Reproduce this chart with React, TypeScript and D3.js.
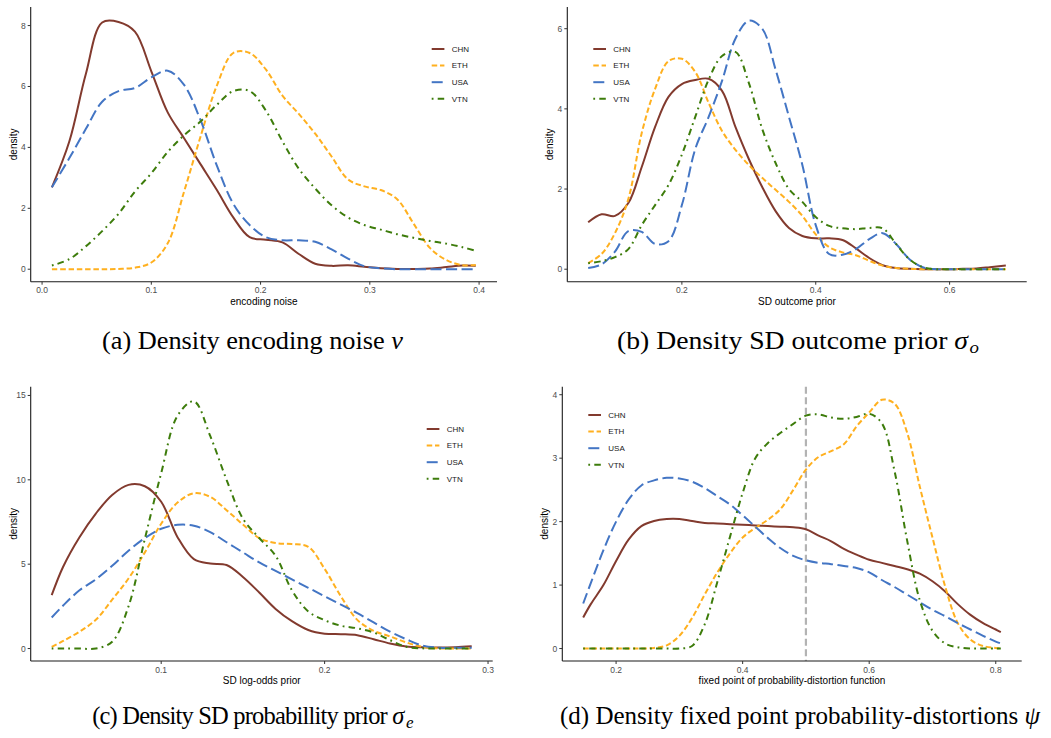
import React from 'react';
import * as d3 from 'd3';

// Countries, drawn in this order (last on top)
const countries = ['CHN', 'ETH', 'USA', 'VTN'];
const countryColors = ['#823A2E', '#FFB01F', '#4375C4', '#3D7C0B'];
const countryDashes = ['', '5.5,2.8', '11,4.5', '1.8,4.2,6.5,4.2'];

// (a) encoding noise
const noiseX = [0.009, 0.025, 0.04, 0.055, 0.07, 0.085, 0.1, 0.115, 0.13, 0.145, 0.16, 0.175, 0.19, 0.205, 0.22, 0.235, 0.25, 0.265, 0.28, 0.295, 0.31, 0.325, 0.34, 0.355, 0.37, 0.385, 0.397];
const noiseCHN = [2.69, 4.2, 6.4, 8.1, 8.12, 7.8, 6.5, 5.15, 4.3, 3.45, 2.6, 1.7, 1.05, 0.97, 0.88, 0.5, 0.18, 0.11, 0.13, 0.08, 0.03, 0.01, 0.01, 0.02, 0.07, 0.12, 0.11];
const noiseETH = [0, 0, 0, 0, 0.01, 0.05, 0.22, 0.85, 2.55, 4.35, 6.03, 7.1, 7.1, 6.55, 5.7, 5.1, 4.45, 3.7, 2.95, 2.72, 2.6, 2.3, 1.5, 0.7, 0.3, 0.13, 0.14];
const noiseUSA = [2.69, 3.65, 4.6, 5.5, 5.85, 5.95, 6.3, 6.52, 6.05, 4.9, 3.4, 2.15, 1.45, 1.05, 0.95, 0.95, 0.9, 0.65, 0.35, 0.1, 0.03, 0, 0, 0, 0, 0, 0];
const noiseVTN = [0.12, 0.33, 0.75, 1.25, 1.82, 2.55, 3.15, 3.85, 4.4, 4.85, 5.4, 5.85, 5.85, 5.2, 4.2, 3.3, 2.65, 2.1, 1.7, 1.45, 1.3, 1.15, 1.03, 0.93, 0.84, 0.72, 0.6];
const noisePeak = 8.2;
const noiseXTicks = [0, 0.1, 0.2, 0.3, 0.4];
const noiseYTicks = [0, 2, 4, 6, 8];

// (b) SD outcome prior
const outcomeX = [0.06, 0.08, 0.1, 0.12, 0.14, 0.16, 0.18, 0.2, 0.22, 0.24, 0.26, 0.28, 0.3, 0.32, 0.34, 0.36, 0.38, 0.4, 0.42, 0.44, 0.46, 0.48, 0.5, 0.52, 0.54, 0.56, 0.58, 0.6, 0.62, 0.64, 0.66, 0.684];
const outcomeCHN = [1.17, 1.37, 1.33, 1.65, 2.55, 3.55, 4.3, 4.62, 4.72, 4.75, 4.45, 3.55, 2.75, 2.05, 1.45, 1.03, 0.83, 0.77, 0.77, 0.73, 0.52, 0.28, 0.1, 0.03, 0.01, 0, 0, 0, 0.01, 0.02, 0.05, 0.09];
const outcomeETH = [0.15, 0.38, 0.9, 1.75, 3.4, 4.5, 5.19, 5.25, 4.92, 4.15, 3.45, 2.98, 2.6, 2.28, 1.98, 1.68, 1.33, 0.87, 0.55, 0.42, 0.35, 0.21, 0.09, 0.03, 0.01, 0, 0, 0, 0, 0, 0, 0];
const outcomeUSA = [0.03, 0.12, 0.44, 0.95, 0.93, 0.63, 0.7, 1.6, 3.0, 3.8, 4.7, 5.75, 6.2, 6.0, 4.98, 3.8, 2.6, 1.1, 0.38, 0.36, 0.5, 0.75, 0.9, 0.63, 0.25, 0.05, 0, 0, 0, 0, 0, 0];
const outcomeVTN = [0.15, 0.2, 0.3, 0.5, 1.1, 1.6, 2.1, 2.86, 3.8, 4.73, 5.32, 5.42, 4.65, 3.5, 2.65, 2.0, 1.68, 1.3, 1.08, 1.02, 1.0, 1.03, 1.02, 0.63, 0.25, 0.05, 0, 0, 0, 0, 0, 0];
const outcomePeak = 6.23;
const outcomeXTicks = [0.2, 0.4, 0.6];
const outcomeYTicks = [0, 2, 4, 6];

// (c) SD log-odds prior
const logoddsX = [0.033, 0.04, 0.05, 0.06, 0.07, 0.08, 0.09, 0.1, 0.11, 0.12, 0.13, 0.14, 0.15, 0.16, 0.17, 0.18, 0.19, 0.2, 0.21, 0.22, 0.23, 0.24, 0.25, 0.26, 0.27, 0.28, 0.29];
const logoddsCHN = [3.16, 4.85, 6.6, 8.0, 9.1, 9.7, 9.62, 8.7, 6.6, 5.3, 5.04, 4.95, 4.24, 3.32, 2.35, 1.62, 1.1, 0.88, 0.85, 0.79, 0.55, 0.3, 0.12, 0.07, 0.06, 0.08, 0.13];
const logoddsETH = [0.1, 0.45, 1.0, 1.7, 2.9, 4.15, 5.7, 7.4, 8.65, 9.2, 8.99, 8.2, 7.35, 6.55, 6.25, 6.19, 6.03, 4.72, 3.09, 1.7, 1.05, 0.72, 0.36, 0.1, 0.01, 0, 0];
const logoddsUSA = [1.84, 2.55, 3.45, 4.1, 4.9, 5.8, 6.55, 7.1, 7.33, 7.28, 6.9, 6.3, 5.7, 5.1, 4.6, 4.1, 3.6, 3.1, 2.6, 2.1, 1.55, 1.0, 0.55, 0.17, 0.05, 0.04, 0.04];
const logoddsVTN = [0, 0, 0, 0, 0.4, 2.5, 6.5, 10.4, 13.8, 14.65, 12.6, 10.0, 7.7, 6.55, 5.5, 3.45, 2.2, 1.68, 1.35, 1.2, 0.95, 0.5, 0.1, 0.01, 0, 0, 0];
const logoddsPeak = 14.78;
const logoddsXTicks = [0.1, 0.2, 0.3];
const logoddsYTicks = [0, 5, 10, 15];

// (d) fixed point of the probability-distortion function
const fixedX = [0.148, 0.16, 0.18, 0.2, 0.22, 0.24, 0.26, 0.28, 0.3, 0.32, 0.34, 0.36, 0.38, 0.4, 0.42, 0.44, 0.46, 0.48, 0.5, 0.52, 0.54, 0.56, 0.58, 0.6, 0.62, 0.64, 0.66, 0.68, 0.7, 0.72, 0.74, 0.76, 0.78, 0.8, 0.808];
const fixedCHN = [0.49, 0.7, 1.0, 1.38, 1.72, 1.93, 2.01, 2.04, 2.04, 2.01, 1.98, 1.97, 1.96, 1.95, 1.94, 1.93, 1.92, 1.91, 1.88, 1.78, 1.69, 1.57, 1.48, 1.4, 1.35, 1.3, 1.25, 1.18, 1.06, 0.9, 0.7, 0.53, 0.4, 0.3, 0.26];
const fixedETH = [0, 0, 0, 0, 0, 0, 0.01, 0.05, 0.2, 0.48, 0.85, 1.2, 1.5, 1.75, 1.9, 2.03, 2.2, 2.5, 2.82, 3.02, 3.11, 3.22, 3.5, 3.72, 3.92, 3.86, 3.4, 2.55, 1.75, 0.98, 0.4, 0.14, 0.04, 0.01, 0];
const fixedUSA = [0.71, 1.03, 1.55, 2.0, 2.35, 2.57, 2.65, 2.69, 2.68, 2.63, 2.53, 2.4, 2.27, 2.1, 1.92, 1.74, 1.58, 1.46, 1.39, 1.35, 1.33, 1.3, 1.27, 1.2, 1.08, 0.97, 0.85, 0.73, 0.61, 0.51, 0.4, 0.3, 0.2, 0.11, 0.08];
const fixedVTN = [0, 0, 0, 0, 0, 0, 0, 0, 0, 0.04, 0.38, 1.05, 1.76, 2.45, 3.0, 3.24, 3.4, 3.54, 3.67, 3.69, 3.64, 3.62, 3.65, 3.7, 3.55, 2.8, 1.7, 0.76, 0.28, 0.08, 0.02, 0, 0, 0, 0];
const fixedPeak = 3.93;
const fixedXTicks = [0.2, 0.4, 0.6, 0.8];
const fixedYTicks = [0, 1, 2, 3, 4];
const fixedReference = 0.5;

type Box = { l: number; r: number; t: number; b: number };
type PanelSpec = {
  xs: number[];
  ys: number[][];
  peak: number;
  xTicks: number[];
  yTicks: number[];
  xTitle: string;
  box: Box;
  legend: { x: number; y: number };
  refLine?: number;
};

const panels: PanelSpec[] = [
  {
    xs: noiseX, ys: [noiseCHN, noiseETH, noiseUSA, noiseVTN], peak: noisePeak,
    xTicks: noiseXTicks, yTicks: noiseYTicks, xTitle: 'encoding noise',
    box: { l: 30.7, r: 497, t: 7, b: 281.7 }, legend: { x: 431.7, y: 49 },
  },
  {
    xs: outcomeX, ys: [outcomeCHN, outcomeETH, outcomeUSA, outcomeVTN], peak: outcomePeak,
    xTicks: outcomeXTicks, yTicks: outcomeYTicks, xTitle: 'SD outcome prior',
    box: { l: 567.3, r: 1026.7, t: 7, b: 281.7 }, legend: { x: 593.3, y: 49 },
  },
  {
    xs: logoddsX, ys: [logoddsCHN, logoddsETH, logoddsUSA, logoddsVTN], peak: logoddsPeak,
    xTicks: logoddsXTicks, yTicks: logoddsYTicks, xTitle: 'SD log-odds prior',
    box: { l: 30.7, r: 492.7, t: 386.7, b: 661 }, legend: { x: 426.7, y: 429 },
  },
  {
    xs: fixedX, ys: [fixedCHN, fixedETH, fixedUSA, fixedVTN], peak: fixedPeak,
    xTicks: fixedXTicks, yTicks: fixedYTicks, xTitle: 'fixed point of probability-distortion function',
    box: { l: 562.3, r: 1021.7, t: 386.7, b: 661 }, legend: { x: 588.3, y: 415 },
    refLine: fixedReference,
  },
];

const SANS = "'Liberation Sans', Arial, Helvetica, sans-serif";
const SERIF = "'Liberation Serif', 'Times New Roman', serif";
const fmtX = d3.format('.1f');
const fmtY = d3.format('d');

// ggplot-style 5% expansion on both sides of a range
function expand(lo: number, hi: number): [number, number] {
  const pad = (hi - lo) * 0.05;
  return [lo - pad, hi + pad];
}

function DensityPanel({ p }: { p: PanelSpec }) {
  const [x0, x1] = d3.extent(p.xs) as [number, number];
  const x = d3.scaleLinear().domain(expand(x0, x1)).range([p.box.l, p.box.r]);
  const y = d3.scaleLinear().domain(expand(0, p.peak)).range([p.box.b, p.box.t]);
  const line = d3
    .line<number>()
    .x((_, i) => x(p.xs[i]))
    .y((d) => y(d))
    .curve(d3.curveCatmullRom.alpha(0.5));

  const cx = (p.box.l + p.box.r) / 2;
  const cy = (p.box.t + p.box.b) / 2;

  return (
    <g>
      {p.refLine !== undefined && (
        <line
          x1={x(p.refLine)} x2={x(p.refLine)} y1={p.box.t} y2={p.box.b}
          stroke="#B3B3B3" strokeWidth={2.2} strokeDasharray="7,3.5"
        />
      )}
      {p.ys.map((vals, k) => (
        <path
          key={countries[k]}
          d={line(vals) || ''}
          fill="none"
          stroke={countryColors[k]}
          strokeWidth={2}
          strokeDasharray={countryDashes[k] || undefined}
          strokeLinejoin="round"
        />
      ))}

      {/* axes */}
      <line x1={p.box.l} x2={p.box.r} y1={p.box.b} y2={p.box.b} stroke="#1a1a1a" strokeWidth={1.1} />
      <line x1={p.box.l} x2={p.box.l} y1={p.box.t} y2={p.box.b} stroke="#1a1a1a" strokeWidth={1.1} />
      {p.xTicks.map((t) => (
        <g key={'x' + t}>
          <line x1={x(t)} x2={x(t)} y1={p.box.b} y2={p.box.b + 3} stroke="#333" strokeWidth={1} />
          <text x={x(t)} y={p.box.b + 11.5} textAnchor="middle" fontFamily={SANS} fontSize={8.5} fill="#4D4D4D">
            {fmtX(t)}
          </text>
        </g>
      ))}
      {p.yTicks.map((t) => (
        <g key={'y' + t}>
          <line x1={p.box.l - 3} x2={p.box.l} y1={y(t)} y2={y(t)} stroke="#333" strokeWidth={1} />
          <text x={p.box.l - 5} y={y(t)} dy="0.35em" textAnchor="end" fontFamily={SANS} fontSize={8.5} fill="#4D4D4D">
            {fmtY(t)}
          </text>
        </g>
      ))}
      <text x={cx} y={p.box.b + 23} textAnchor="middle" fontFamily={SANS} fontSize={10} fill="#000">
        {p.xTitle}
      </text>
      <text
        transform={`translate(${p.box.l - 14},${cy}) rotate(-90)`}
        textAnchor="middle" fontFamily={SANS} fontSize={10} fill="#000"
      >
        density
      </text>

      {/* legend */}
      {countries.map((c, k) => {
        const ly = p.legend.y + k * 16.6;
        return (
          <g key={'lg' + c}>
            <line
              x1={p.legend.x} x2={p.legend.x + 12.7} y1={ly} y2={ly}
              stroke={countryColors[k]} strokeWidth={2}
              strokeDasharray={countryDashes[k] || undefined}
            />
            <text x={p.legend.x + 20} y={ly} dy="0.35em" fontFamily={SANS} fontSize={8} fill="#1a1a1a">
              {c}
            </text>
          </g>
        );
      })}
    </g>
  );
}

export default function App() {
  return (
    <svg
      width={1051}
      height={738}
      viewBox="0 0 1051 738"
      style={{ position: 'absolute', left: 0, top: 0, background: '#fff' }}
    >
      <rect width={1051} height={738} fill="#fff" />
      {panels.map((p, i) => (
        <DensityPanel key={i} p={p} />
      ))}

      <g fontFamily={SERIF} fontSize={25} fill="#000" textAnchor="middle">
        <text x={252.5} y={349} textLength={301} lengthAdjust="spacingAndGlyphs">
          (a) Density encoding noise <tspan fontStyle="italic">ν</tspan>
        </text>
        <text x={798} y={349} textLength={362} lengthAdjust="spacingAndGlyphs">
          (b) Density SD outcome prior <tspan fontStyle="italic">σ</tspan>
          <tspan fontStyle="italic" fontSize={17} dx={1.5} dy={4}>o</tspan>
        </text>
        <text x={252.5} y={724} fontSize={24.5} letterSpacing={-0.8}>
          (c) Density SD probabillity prior <tspan fontStyle="italic">σ</tspan>
          <tspan fontStyle="italic" fontSize={17} dx={2.5} dy={4}>e</tspan>
        </text>
        <text x={800} y={724} textLength={480} lengthAdjust="spacingAndGlyphs">
          (d) Density fixed point probability-distortions <tspan fontStyle="italic">ψ</tspan>
        </text>
      </g>
    </svg>
  );
}
